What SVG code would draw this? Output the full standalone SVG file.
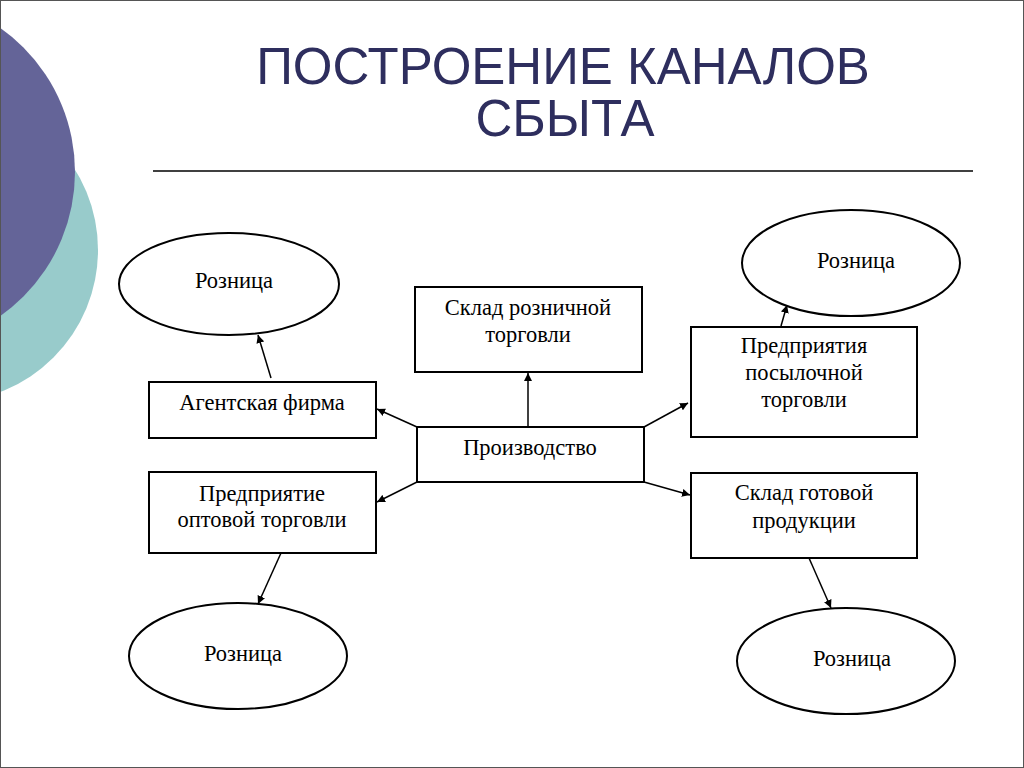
<svg xmlns="http://www.w3.org/2000/svg" width="1024" height="768" viewBox="0 0 1024 768">
<style>
.title{font-family:"Liberation Sans",Arial,sans-serif;font-size:51px;fill:#2e2e5e;text-anchor:middle}
.box{fill:#fff;stroke:#000;stroke-width:2}
.lbl{font-family:"Liberation Serif","Times New Roman",serif;font-size:22.5px;fill:#000;text-anchor:middle}
.conn{stroke:#000;stroke-width:1.5;fill:none;marker-end:url(#ah)}
</style>
<defs>
<marker id="ah" viewBox="0 0 10 10" refX="10" refY="5" markerWidth="8" markerHeight="8" markerUnits="userSpaceOnUse" orient="auto">
<path d="M0,0 L10,5 L0,10 z" fill="#000"/>
</marker>
</defs>
<rect x="0" y="0" width="1024" height="768" fill="#fff"/>
<circle cx="-54" cy="250" r="152" fill="#98cbcb"/>
<circle cx="-101" cy="172" r="176" fill="#646498"/>
<rect x="0.5" y="0.5" width="1023" height="767" fill="none" stroke="#555" stroke-width="1"/>
<g id="title">
<text class="title" x="563" y="84">ПОСТРОЕНИЕ КАНАЛОВ</text>
<text class="title" x="565" y="136">СБЫТА</text>
<line x1="153" y1="171" x2="973" y2="171" stroke="#000" stroke-width="1.5"/>
</g>
<g id="connectors">
<line class="conn" x1="271" y1="378" x2="258" y2="335"/>
<line class="conn" x1="417" y1="427" x2="377" y2="409"/>
<line class="conn" x1="417" y1="482" x2="377" y2="502"/>
<line class="conn" x1="528" y1="427" x2="528" y2="373"/>
<line class="conn" x1="644" y1="427" x2="688" y2="403"/>
<line class="conn" x1="644" y1="482" x2="690" y2="495"/>
<line class="conn" x1="781" y1="326" x2="787" y2="305"/>
<line class="conn" x1="281" y1="553" x2="258" y2="604"/>
<line class="conn" x1="809" y1="558" x2="831" y2="608"/>
</g>
<g id="roznitsa-tl">
<ellipse class="box" cx="229" cy="284" rx="110" ry="51"/>
<text class="lbl" x="234" y="288">Розница</text>
</g>
<g id="roznitsa-tr">
<ellipse class="box" cx="851" cy="263" rx="109" ry="53"/>
<text class="lbl" x="856" y="268">Розница</text>
</g>
<g id="roznitsa-bl">
<ellipse class="box" cx="238" cy="656" rx="109" ry="53"/>
<text class="lbl" x="243" y="661">Розница</text>
</g>
<g id="roznitsa-br">
<ellipse class="box" cx="846" cy="661" rx="109" ry="53"/>
<text class="lbl" x="852" y="666">Розница</text>
</g>
<g id="agent">
<rect class="box" x="149" y="382" width="227" height="56"/>
<text class="lbl" x="262" y="410">Агентская фирма</text>
</g>
<g id="opt">
<rect class="box" x="149" y="472" width="227" height="81"/>
<text class="lbl" x="262" y="501">Предприятие</text>
<text class="lbl" x="262" y="527">оптовой торговли</text>
</g>
<g id="sklad-rozn">
<rect class="box" x="415" y="287" width="227" height="85"/>
<text class="lbl" x="528" y="315">Склад розничной</text>
<text class="lbl" x="528" y="342">торговли</text>
</g>
<g id="proizv">
<rect class="box" x="417" y="427" width="227" height="55"/>
<text class="lbl" x="530" y="455">Производство</text>
</g>
<g id="posyl">
<rect class="box" x="691" y="327" width="226" height="110"/>
<text class="lbl" x="804" y="353">Предприятия</text>
<text class="lbl" x="804" y="380">посылочной</text>
<text class="lbl" x="804" y="407">торговли</text>
</g>
<g id="sklad-got">
<rect class="box" x="691" y="473" width="226" height="85"/>
<text class="lbl" x="804" y="500">Склад готовой</text>
<text class="lbl" x="804" y="528">продукции</text>
</g>
</svg>
